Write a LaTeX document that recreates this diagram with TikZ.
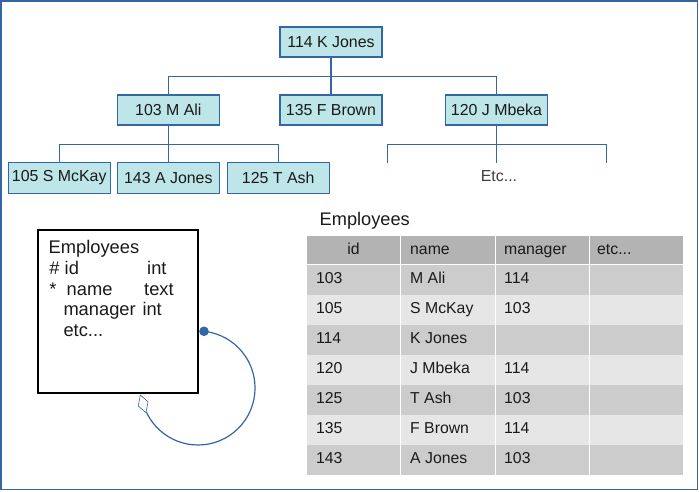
\documentclass[tikz,border=0pt]{standalone}
\usepackage{fontspec}
\setmainfont{Liberation Sans}
\definecolor{frameblue}{HTML}{3465A4}
\definecolor{boxcyan}{HTML}{BEE5E7}
\definecolor{hdrgrey}{HTML}{B3B3B3}
\definecolor{rowdark}{HTML}{CCCCCC}
\definecolor{rowlight}{HTML}{E6E6E6}
\definecolor{txt}{HTML}{1A1A1A}
\tikzset{
  person/.style={draw=frameblue, fill=boxcyan, line width=1.1pt, minimum width=102pt, minimum height=30pt, inner sep=0pt, font=\fontsize{15.9}{18}\selectfont, text=txt},
  link/.style={draw=frameblue, line width=1.1pt},
  enttext/.style={anchor=base west, inner sep=0pt, font=\fontsize{18.3}{21}\selectfont, text=txt},
  celltext/.style={anchor=base west, inner sep=0pt, font=\fontsize{15.8}{18}\selectfont, text=txt},
}
\begin{document}
\begin{tikzpicture}[x=1pt,y=-1pt]
\useasboundingbox (0,0) rectangle (699,491);
\draw[frameblue, line width=1.3pt] (1,1) rectangle (697.5,489.8);

% tree
\node[person] (kj) at (331,42) {114 K Jones};
\node[person] (ali) at (168.3,110) {103 M Ali};
\node[person] (br) at (331,110) {135 F Brown};
\node[person] (mb) at (496.5,110) {120 J Mbeka};
\node[person, minimum height=31pt] (mck) at (59.2,177.7) {105 S McKay};
\node[person, minimum height=31pt] (aj) at (168.3,177.7) {143 A Jones};
\node[person, minimum height=31pt] (ash) at (278.2,177.7) {125 T Ash};
\node[inner sep=0pt, font=\fontsize{15.9}{18}\selectfont, text=txt!85] (etc) at (499,176) {Etc...};

\coordinate (b1) at (0,76.3);
\coordinate (b2) at (0,144.7);
\coordinate (l1) at (387.3,162.7);
\coordinate (l2) at (496.5,162.7);
\coordinate (l3) at (606.3,162.7);

\draw[link] (ali.north) |- (b1 -| kj.south) -| (mb.north);
\draw[link] (kj.south) -- (br.north);
\draw[link] (mck.north) |- (b2 -| ali.south) -| (ash.north);
\draw[link] (ali.south) -- (aj.north);
\draw[link] (l1) |- (b2 -| mb.south) -| (l3);
\draw[link] (mb.south) -- (l2);

% entity box
\node[draw=black, line width=2pt, minimum width=159.4pt, minimum height=162.7pt, inner sep=0pt] (ent) at (118,311.35) {};
\node[enttext] (e0) at (48.5,253.3) {Employees};
\node[enttext] (e1a) at (49.2,274) {\#};
\node[enttext] (e1b) at (64.5,274) {id};
\node[enttext] (e1c) at (147,274) {int};
\node[enttext] (e2a) at (49.2,295) {*};
\node[enttext] (e2b) at (66.5,295) {name};
\node[enttext] (e2c) at (144,295) {text};
\node[enttext] (e3a) at (63.3,315.7) {manager};
\node[enttext] (e3b) at (142.3,315.7) {int};
\node[enttext] (e4) at (63.3,336) {etc...};

% self relation
\coordinate (rs) at (204,331.3);
\coordinate (rd) at (146,412.7);
\draw[frameblue, line width=1.2pt] (rs) arc[start angle=-84, end angle=154.6, radius=57];
\fill[frameblue] (rs) circle[radius=4.8];
\draw[frameblue, line width=0.6pt, fill=white, line join=round] (rd) -- (148,401.7) -- (140.3,395) -- (138.3,406) -- cycle;

% table
\node[anchor=base west, inner sep=0pt, font=\fontsize{18.2}{21}\selectfont, text=txt] (ttl) at (319.5,225) {Employees};
\fill[hdrgrey] (306.7,235.7) rectangle (400,264.3);
\fill[hdrgrey] (401,235.7) rectangle (495,264.3);
\fill[hdrgrey] (496,235.7) rectangle (589,264.3);
\fill[hdrgrey] (590,235.7) rectangle (682.7,264.3);
\node[anchor=base, inner sep=0pt, font=\fontsize{15.8}{18}\selectfont, text=txt] (hid) at (353.5,254) {id};
\node[celltext] (hname) at (410,254) {name};
\node[celltext] (hman) at (504,254) {manager};
\node[celltext] (hetc) at (597,254) {etc...};

\foreach \i/\id/\nm/\mg [count=\k from 0] in {0/103/M Ali/114, 1/105/S McKay/103, 2/114/K Jones/, 3/120/J Mbeka/114, 4/125/T Ash/103, 5/135/F Brown/114, 6/143/A Jones/103} {
  \pgfmathsetmacro{\yt}{265.3+30.0*\i}
  \pgfmathsetmacro{\yb}{\yt+29.4}
  \pgfmathsetmacro{\yl}{\yt+18.3}
  \ifodd\k \def\rc{rowlight}\else\def\rc{rowdark}\fi
  \fill[\rc] (306.7,\yt) rectangle (400,\yb);
  \fill[\rc] (401,\yt) rectangle (495,\yb);
  \fill[\rc] (496,\yt) rectangle (589,\yb);
  \fill[\rc] (590,\yt) rectangle (682.7,\yb);
  \node[celltext] at (315.8,\yl) {\id};
  \node[celltext] at (410,\yl) {\nm};
  \node[celltext] at (504,\yl) {\mg};
}
\end{tikzpicture}
\end{document}
